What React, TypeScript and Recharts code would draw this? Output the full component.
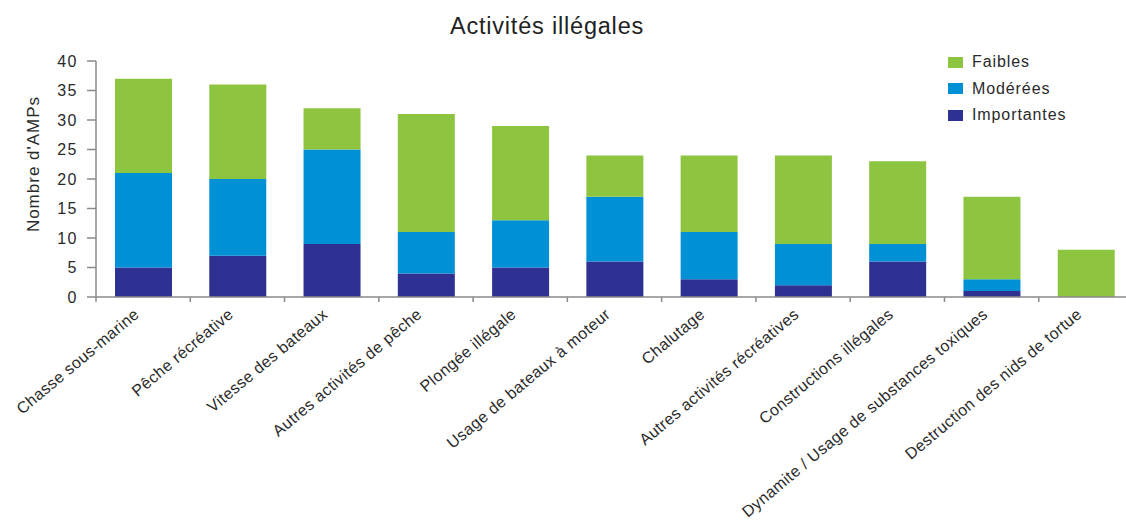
import React from 'react';
import { BarChart, Bar, XAxis, YAxis, Legend } from 'recharts';

const categories = [
  'Chasse sous-marine',
  'Pêche récréative',
  'Vitesse des bateaux',
  'Autres activités de pêche',
  'Plongée illégale',
  'Usage de bateaux à moteur',
  'Chalutage',
  'Autres activités récréatives',
  'Constructions illégales',
  'Dynamite / Usage de substances toxiques',
  'Destruction des nids de tortue',
];
const importantes = [5, 7, 9, 4, 5, 6, 3, 2, 6, 1, 0];
const moderees = [16, 13, 16, 7, 8, 11, 8, 7, 3, 2, 0];
const faibles = [16, 16, 7, 20, 16, 7, 13, 15, 14, 14, 8];
const yTicks = [0, 5, 10, 15, 20, 25, 30, 35, 40];
const seriesNames = { faibles: 'Faibles', moderees: 'Modérées', importantes: 'Importantes' };

const COLORS = { faibles: '#8DC540', moderees: '#0090D5', importantes: '#2E3192' };

const data = categories.map((name, i) => ({
  name,
  importantes: importantes[i],
  moderees: moderees[i],
  faibles: faibles[i],
}));

const CHART_W = 1145;
const CHART_H = 521;
const LEFT = 96;
const RIGHT_MARGIN = 12;
const PLOT_W = CHART_W - LEFT - RIGHT_MARGIN;
const HALF_BAND = PLOT_W / categories.length / 2;
const FONT = '"Liberation Sans", Arial, Helvetica, sans-serif';
const AXIS_COLOR = '#8a8a8a';
const TEXT_COLOR = '#2a2a2a';

const XTick = (props: any) => {
  const { x, y, payload, index } = props;
  const tx = x - 3;
  const ty = y + 19;
  return (
    <g>
      <line x1={x - HALF_BAND} x2={x - HALF_BAND} y1={y} y2={y + 5} stroke={AXIS_COLOR} strokeWidth={1.5} />
      {index === categories.length - 1 && (
        <line x1={x + HALF_BAND} x2={x + HALF_BAND} y1={y} y2={y + 5} stroke={AXIS_COLOR} strokeWidth={1.5} />
      )}
      <text
        x={tx}
        y={ty}
        transform={`rotate(-40, ${tx}, ${ty})`}
        textAnchor="end"
        fontSize={16}
        fontFamily={FONT}
        fill={TEXT_COLOR}
        letterSpacing={0.4}
      >
        {payload.value}
      </text>
    </g>
  );
};

const YLabel = () => (
  <text
    x={39}
    y={164}
    transform="rotate(-90, 39, 164)"
    textAnchor="middle"
    fontSize={17}
    fontFamily={FONT}
    fill={TEXT_COLOR}
    letterSpacing={1}
  >
    Nombre d'AMPs
  </text>
);

const LegendContent = () => {
  const order: Array<keyof typeof COLORS> = ['faibles', 'moderees', 'importantes'];
  return (
    <div style={{ fontFamily: FONT }}>
      {order.map((k) => (
        <div key={k} style={{ height: 26.5, display: 'flex', alignItems: 'center' }}>
          <span style={{ display: 'inline-block', width: 15, height: 11, background: COLORS[k], marginRight: 9 }} />
          <span style={{ fontSize: 16, color: TEXT_COLOR, letterSpacing: 0.9 }}>{seriesNames[k]}</span>
        </div>
      ))}
    </div>
  );
};

export default function App() {
  return (
    <div
      style={{
        position: 'absolute',
        left: 0,
        top: 0,
        width: 1126,
        height: 521,
        overflow: 'hidden',
        background: '#fff',
      }}
    >
      <div
        style={{
          position: 'absolute',
          left: 0,
          width: 1094,
          top: 13,
          textAlign: 'center',
          fontFamily: FONT,
          fontSize: 23.5,
          color: '#222',
          letterSpacing: 0.8,
        }}
      >
        Activités illégales
      </div>
      <BarChart
        width={CHART_W}
        height={CHART_H}
        data={data}
        margin={{ top: 61, right: RIGHT_MARGIN, bottom: 0, left: 0 }}
        barSize={57}
      >
        <XAxis
          dataKey="name"
          interval={0}
          tickLine={false}
          tickSize={0}
          tickMargin={0}
          tick={<XTick />}
          axisLine={{ stroke: AXIS_COLOR, strokeWidth: 1.5 }}
          height={224}
        />
        <YAxis
          width={LEFT}
          domain={[0, 40]}
          ticks={yTicks}
          interval={0}
          tickSize={9}
          tickMargin={9}
          tick={{ fontSize: 16, fill: TEXT_COLOR, fontFamily: FONT, letterSpacing: 1.5 }}
          tickLine={{ stroke: AXIS_COLOR, strokeWidth: 1.5 }}
          axisLine={{ stroke: AXIS_COLOR, strokeWidth: 1.5 }}
          label={<YLabel />}
        />
        <Legend
          layout="horizontal"
          verticalAlign="middle"
          align="center"
          content={<LegendContent />}
          wrapperStyle={{ position: 'absolute', left: 948, top: 49, width: 170 }}
        />
        <Bar dataKey="importantes" stackId="a" fill={COLORS.importantes} isAnimationActive={false} />
        <Bar dataKey="moderees" stackId="a" fill={COLORS.moderees} isAnimationActive={false} />
        <Bar dataKey="faibles" stackId="a" fill={COLORS.faibles} isAnimationActive={false} />
      </BarChart>
    </div>
  );
}
